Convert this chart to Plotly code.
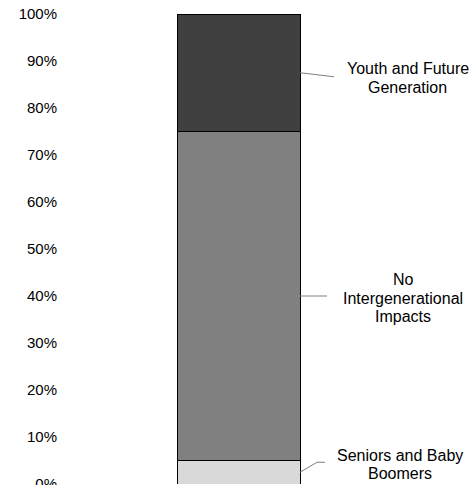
import plotly.graph_objects as go

categories = ["Seniors and Baby<br>Boomers", "No<br>Intergenerational<br>Impacts", "Youth and Future<br>Generation"]
values = [5, 70, 25]
colors = ["#d9d9d9", "#808080", "#404040"]
tick_vals = [0, 10, 20, 30, 40, 50, 60, 70, 80, 90, 100]
tick_text = [f"{v}%" for v in tick_vals]

W, H = 473, 485
ml, mr, mt, mb = 62, 0, 14, 1
bar_px = 123.0
bar_center_px = 238.5
plot_w = W - ml - mr
r0 = -(bar_center_px - ml) / bar_px
r1 = r0 + plot_w / bar_px

fig = go.Figure()
for name, v, c in zip(categories, values, colors):
    fig.add_trace(go.Bar(x=[0], y=[v], width=1, name=name, marker=dict(color=c, line=dict(color="#000000", width=1))))

px_per_pct = (H - mt - mb) / 100.0
def dx(p):
    return p / bar_px
def dy(p):
    return p / px_per_pct

line_gap = 18.5
shapes = []
annotations = []
cum = 0
specs = [
    ([(17, 10), (25, 10)], 99.5, 8),
    ([(27, 0)], 103, -2),
    ([(34, -4)], 107.5, -5),
]
for (name, v), (pts, lx, ly) in zip(zip(categories, values), specs):
    mid = cum + v / 2
    cum += v
    x0, y0 = 0.5, mid
    path = f"M {x0},{y0}"
    for (px_, py_) in pts:
        path += f" L {x0 + dx(px_)},{y0 + dy(py_)}"
    shapes.append(dict(type="path", path=path, xref="x", yref="y", line=dict(color="#808080", width=1)))
    lines = name.split("<br>")
    n = len(lines)
    for i, t in enumerate(lines):
        off = ((n - 1) / 2 - i) * line_gap
        annotations.append(dict(x=x0 + dx(lx), y=y0 + dy(ly + off), xref="x", yref="y", text=t, showarrow=False,
                                font=dict(family="Liberation Sans, Arial", size=16, color="#000000"),
                                align="center", xanchor="center", yanchor="middle"))

fig.update_layout(
    barmode="stack", width=W, height=H,
    margin=dict(l=ml, r=mr, t=mt, b=mb, pad=0),
    paper_bgcolor="white", plot_bgcolor="white",
    showlegend=False, shapes=shapes, annotations=annotations,
    xaxis=dict(range=[r0, r1], visible=False, fixedrange=True),
    yaxis=dict(range=[0, 100], tickvals=tick_vals, ticktext=tick_text, showgrid=False, zeroline=False,
               showline=False, ticks="", tickfont=dict(family="Liberation Sans, Arial", size=15, color="#000000"),
               ticklabelstandoff=4, ticklabeloverflow="allow", automargin=False, fixedrange=True),
)
fig.write_html("out.html")
